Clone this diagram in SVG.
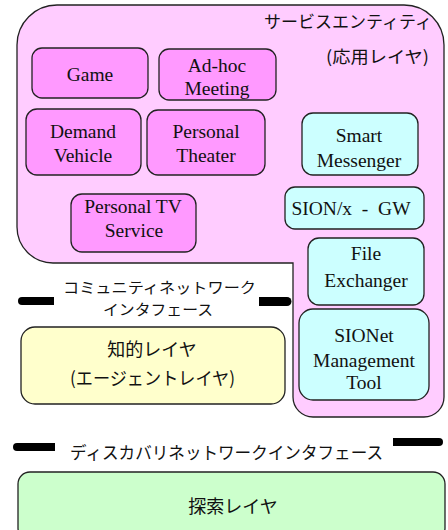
<svg xmlns="http://www.w3.org/2000/svg" width="448" height="530" viewBox="0 0 448 530">
<style>
.bx{stroke:#222;stroke-width:1.3}
.pk{fill:#ff99ff}
.cy{fill:#ccffff}
.en{font-family:'Liberation Serif',serif;font-size:19.5px;fill:#111;text-anchor:middle}
.jp{font-family:'Noto Sans CJK JP','Noto Sans',sans-serif;fill:#111}
.bar{fill:#000}
</style>
<rect x="0" y="0" width="448" height="530" fill="#fff"/>
<g id="service-entity">
<path class="bx" fill="#ffccff" d="M57,5 H404 A40 40 0 0 1 444,45 V397 A20 20 0 0 1 424,417 H313 A20 20 0 0 1 293,397 V263 H53 A36 36 0 0 1 17,227 V45 A40 40 0 0 1 57,5 Z"/>
<text class="jp" x="264" y="28" font-size="17" textLength="168" lengthAdjust="spacingAndGlyphs">サービスエンティティ</text>
<text class="jp" x="326" y="63" font-size="17" textLength="103" lengthAdjust="spacingAndGlyphs">(応用レイヤ)</text>
</g>
<g id="game"><rect class="bx pk" x="32" y="48" width="116" height="50" rx="10"/><text class="en" font-family="Liberation Serif, serif" x="90" y="81">Game</text></g>
<g id="adhoc"><rect class="bx pk" x="159" y="49" width="117" height="51" rx="10"/><text class="en" font-family="Liberation Serif, serif" x="217" y="72">Ad-hoc</text><text class="en" font-family="Liberation Serif, serif" x="217" y="95">Meeting</text></g>
<g id="demand"><rect class="bx pk" x="26" y="109" width="115" height="66" rx="11"/><text class="en" font-family="Liberation Serif, serif" x="83" y="138">Demand</text><text class="en" font-family="Liberation Serif, serif" x="83" y="162">Vehicle</text></g>
<g id="theater"><rect class="bx pk" x="147" y="110" width="118" height="65" rx="11"/><text class="en" font-family="Liberation Serif, serif" x="206" y="138">Personal</text><text class="en" font-family="Liberation Serif, serif" x="206" y="162">Theater</text></g>
<g id="tv"><rect class="bx pk" x="71" y="194" width="125" height="58" rx="11"/><text class="en" font-family="Liberation Serif, serif" x="133" y="213">Personal TV</text><text class="en" font-family="Liberation Serif, serif" x="134" y="237">Service</text></g>
<g id="smart"><rect class="bx cy" x="302" y="113" width="116" height="62" rx="11"/><text class="en" font-family="Liberation Serif, serif" x="359" y="142">Smart</text><text class="en" font-family="Liberation Serif, serif" x="359" y="167">Messenger</text></g>
<g id="sionx"><rect class="bx cy" x="285" y="187" width="139" height="42" rx="10"/><text class="en" font-family="Liberation Serif, serif" x="351" y="215" xml:space="preserve">SION/x  -  GW</text></g>
<g id="file"><rect class="bx cy" x="308" y="238" width="116" height="67" rx="11"/><text class="en" font-family="Liberation Serif, serif" x="366" y="260">File</text><text class="en" font-family="Liberation Serif, serif" x="366" y="287">Exchanger</text></g>
<g id="sionet"><rect class="bx cy" x="299" y="309" width="130" height="91" rx="14"/><text class="en" font-family="Liberation Serif, serif" x="364" y="342">SIONet</text><text class="en" font-family="Liberation Serif, serif" x="364" y="367">Management</text><text class="en" font-family="Liberation Serif, serif" x="364" y="389">Tool</text></g>
<g id="community-if">
<path class="bar" d="M54,297 V305 H22 A4 4 0 0 1 22,297 Z"/>
<path class="bar" d="M259,297 H287 A4.5 4.5 0 0 1 287,306 H259 Z"/>
<text class="jp" x="63" y="293" font-size="15" textLength="193" lengthAdjust="spacingAndGlyphs">コミュニティネットワーク</text>
<text class="jp" x="103" y="315" font-size="15" textLength="110" lengthAdjust="spacingAndGlyphs">インタフェース</text>
</g>
<g id="agent-layer">
<rect class="bx" fill="#ffffcc" x="21" y="327" width="264" height="77" rx="14"/>
<text class="jp" x="152" y="356" font-size="18" text-anchor="middle">知的レイヤ</text>
<text class="jp" x="70" y="385" font-size="18" textLength="165" lengthAdjust="spacingAndGlyphs">(エージェントレイヤ)</text>
</g>
<g id="discovery-if">
<path class="bar" d="M55,443 V451 H17 A4 4 0 0 1 17,443 Z"/>
<path class="bar" d="M393,438 H439 A4 4 0 0 1 439,446 H393 Z"/>
<text class="jp" x="70" y="459" font-size="17.4" textLength="313" lengthAdjust="spacingAndGlyphs">ディスカバリネットワークインタフェース</text>
</g>
<g id="search-layer">
<rect class="bx" fill="#ccffcc" x="18" y="472" width="427" height="68" rx="12"/>
<text class="jp" x="233" y="513" font-size="18" text-anchor="middle">探索レイヤ</text>
</g>
<g id="connectors"></g>
</svg>
